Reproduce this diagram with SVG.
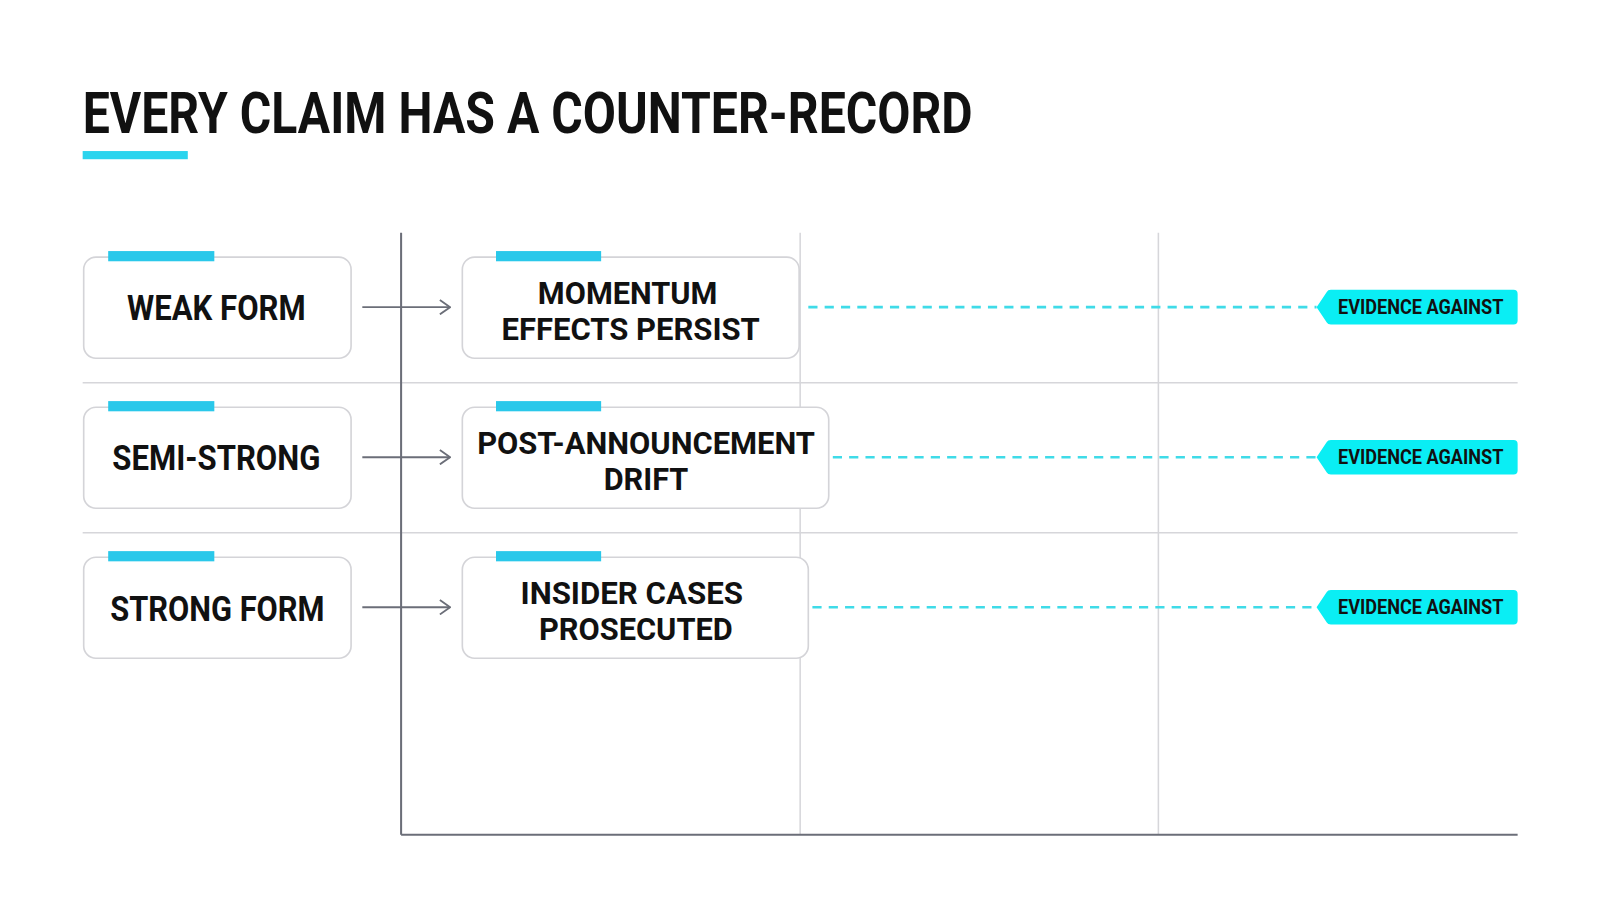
<svg xmlns="http://www.w3.org/2000/svg" width="1600" height="914" viewBox="0 0 1600 914">
<style>
text{font-family:Roboto,"Liberation Sans",sans-serif;font-weight:700;fill:#111;}
.node{fill:#fff;stroke:#d4d4d8;stroke-width:1.6;}
.acc{fill:#2ac8ea;}
.grid{stroke:#d6d6da;stroke-width:1.5;}
.axis{stroke:#6b6e78;stroke-width:2;}
.arr{stroke:#6b6e78;stroke-width:1.8;fill:none;}
.dash{stroke:#3fdbe8;stroke-width:2.6;stroke-dasharray:9 7;fill:none;}
.tag{fill:#0aeef4;}
.lbl{font-size:34px;text-anchor:middle;}
.l2{font-size:31px;text-anchor:middle;}
.tl{font-size:19px;text-anchor:middle;}
</style>
<defs>
<marker id="ah" viewBox="0 0 12 16" refX="11" refY="8" markerWidth="12" markerHeight="16" markerUnits="userSpaceOnUse" orient="auto"><path d="M1,1 L11,8 L1,15" fill="none" stroke="#6b6e78" stroke-width="1.8"/></marker>
</defs>
<rect width="1600" height="914" fill="#fff"/>
<g transform="scale(1.0206)">
<g id="title">
<text x="81" y="130" font-size="56" textLength="872" lengthAdjust="spacingAndGlyphs">EVERY CLAIM HAS A COUNTER-RECORD</text>
<rect x="81" y="148" width="103" height="8" fill="#2bd4ee"/>
</g>
<g id="grid">
<line class="grid" x1="784" y1="228" x2="784" y2="818"/>
<line class="grid" x1="1135" y1="228" x2="1135" y2="818"/>
<line class="grid" x1="81" y1="375" x2="1487" y2="375"/>
<line class="grid" x1="81" y1="522" x2="1487" y2="522"/>
<line class="axis" x1="393" y1="228" x2="393" y2="818"/>
<line class="axis" x1="393" y1="818" x2="1487" y2="818"/>
</g>
<g id="connectors">
<line class="arr" x1="355" y1="301" x2="441" y2="301" marker-end="url(#ah)"/>
<line class="arr" x1="355" y1="448" x2="441" y2="448" marker-end="url(#ah)"/>
<line class="arr" x1="355" y1="595" x2="441" y2="595" marker-end="url(#ah)"/>
<line class="dash" x1="792" y1="301" x2="1290" y2="301"/>
<line class="dash" x1="816" y1="448" x2="1290" y2="448"/>
<line class="dash" x1="796" y1="595" x2="1290" y2="595"/>
</g>
<g id="weak">
<rect class="node" x="82" y="252" width="262" height="99" rx="12"/>
<rect class="acc" x="106" y="246" width="104" height="10"/>
<text class="lbl" x="212" y="314" textLength="175" lengthAdjust="spacingAndGlyphs">WEAK FORM</text>
</g>
<g id="semi">
<rect class="node" x="82" y="399" width="262" height="99" rx="12"/>
<rect class="acc" x="106" y="393" width="104" height="10"/>
<text class="lbl" x="212" y="461" textLength="204" lengthAdjust="spacingAndGlyphs">SEMI-STRONG</text>
</g>
<g id="strong">
<rect class="node" x="82" y="546" width="262" height="99" rx="12"/>
<rect class="acc" x="106" y="540" width="104" height="10"/>
<text class="lbl" x="213" y="608" textLength="210" lengthAdjust="spacingAndGlyphs">STRONG FORM</text>
</g>
<g id="momentum">
<rect class="node" x="453" y="252" width="330" height="99" rx="12"/>
<rect class="acc" x="486" y="246" width="103" height="10"/>
<text class="l2" x="615" y="298" textLength="176" lengthAdjust="spacingAndGlyphs">MOMENTUM</text>
<text class="l2" x="618" y="333" textLength="253" lengthAdjust="spacingAndGlyphs">EFFECTS PERSIST</text>
</g>
<g id="drift">
<rect class="node" x="453" y="399" width="359" height="99" rx="12"/>
<rect class="acc" x="486" y="393" width="103" height="10"/>
<text class="l2" x="633" y="445" textLength="331" lengthAdjust="spacingAndGlyphs">POST-ANNOUNCEMENT</text>
<text class="l2" x="633" y="480" textLength="83" lengthAdjust="spacingAndGlyphs">DRIFT</text>
</g>
<g id="insider">
<rect class="node" x="453" y="546" width="339" height="99" rx="12"/>
<rect class="acc" x="486" y="540" width="103" height="10"/>
<text class="l2" x="619" y="592" textLength="218" lengthAdjust="spacingAndGlyphs">INSIDER CASES</text>
<text class="l2" x="623" y="627" textLength="190" lengthAdjust="spacingAndGlyphs">PROSECUTED</text>
</g>
<g id="tag1">
<path class="tag" d="M1290,301 L1300,286 Q1301,284 1304,284 L1483,284 Q1487,284 1487,288 L1487,314 Q1487,318 1483,318 L1304,318 Q1301,318 1300,316 Z"/>
<text class="tl" x="1392" y="308" textLength="162" lengthAdjust="spacingAndGlyphs">EVIDENCE AGAINST</text>
</g>
<g id="tag2">
<path class="tag" d="M1290,448 L1300,433 Q1301,431 1304,431 L1483,431 Q1487,431 1487,435 L1487,461 Q1487,465 1483,465 L1304,465 Q1301,465 1300,463 Z"/>
<text class="tl" x="1392" y="455" textLength="162" lengthAdjust="spacingAndGlyphs">EVIDENCE AGAINST</text>
</g>
<g id="tag3">
<path class="tag" d="M1290,595 L1300,580 Q1301,578 1304,578 L1483,578 Q1487,578 1487,582 L1487,608 Q1487,612 1483,612 L1304,612 Q1301,612 1300,610 Z"/>
<text class="tl" x="1392" y="602" textLength="162" lengthAdjust="spacingAndGlyphs">EVIDENCE AGAINST</text>
</g>
</g>
</svg>
